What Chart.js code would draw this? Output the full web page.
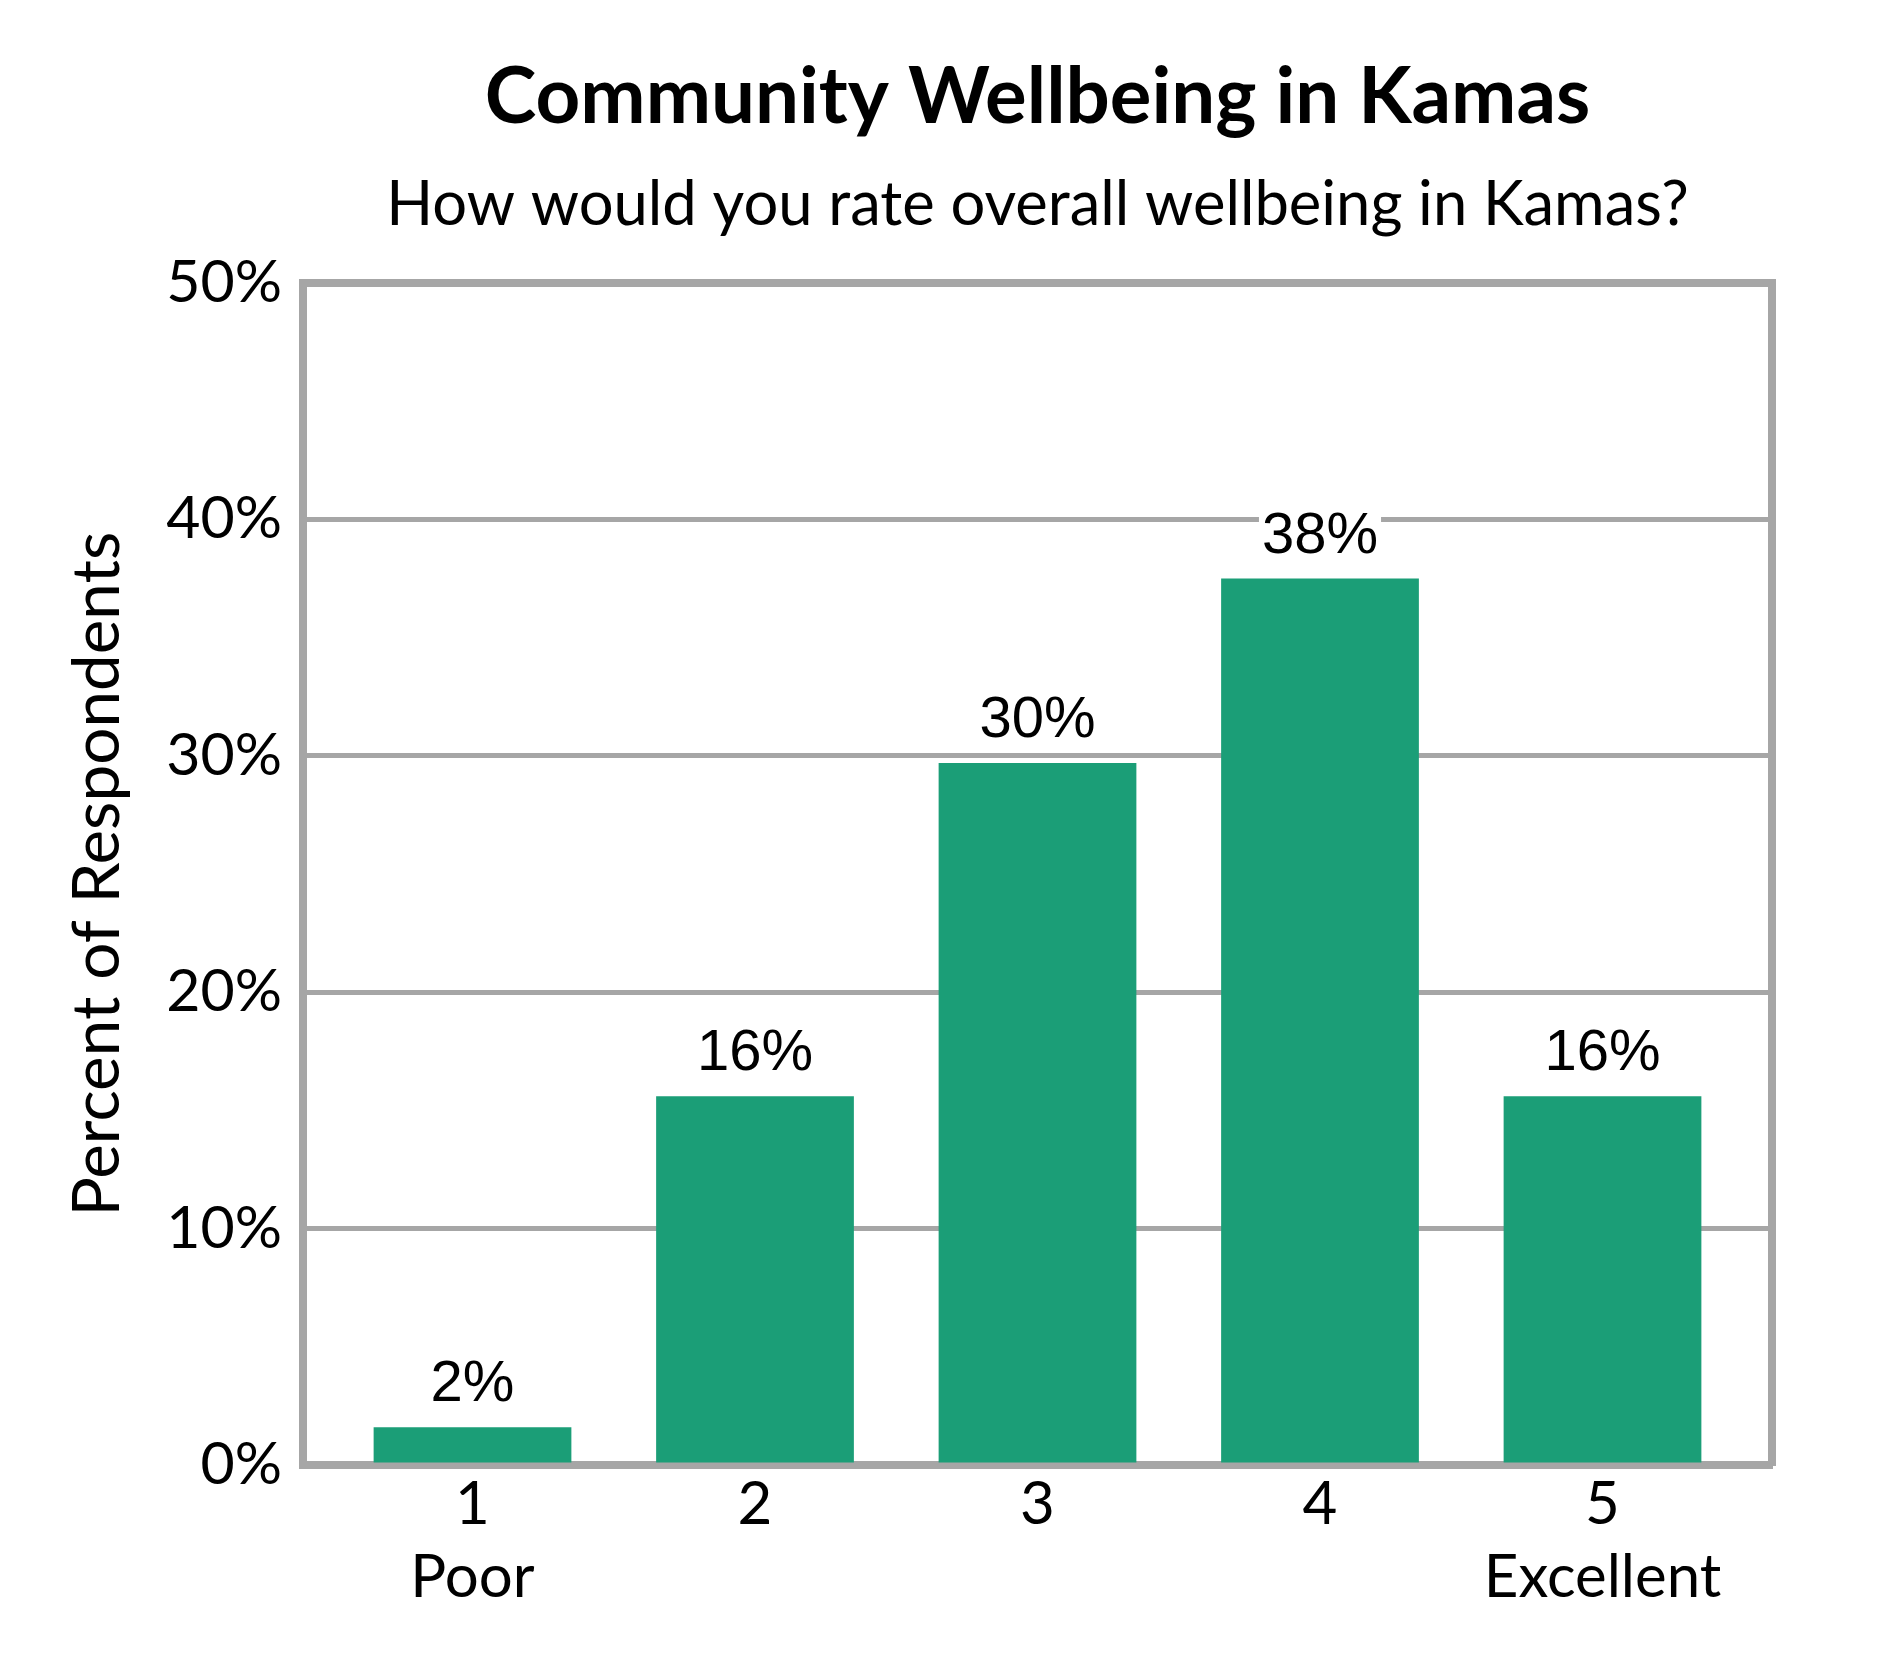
<!DOCTYPE html>
<html>
<head>
<meta charset="utf-8">
<script src="https://cdn.jsdelivr.net/npm/chart.js@4.4.1/dist/chart.umd.min.js"></script>
<style>
  html, body { margin: 0; padding: 0; background: #ffffff; }
  #wrap { width: 1890px; height: 1680px; }
</style>
</head>
<body>
<div id="wrap"><canvas id="c" width="1890" height="1680"></canvas></div>
<script>
// ---- data ----
const titleText = 'Community Wellbeing in Kamas';
const subtitleText = 'How would you rate overall wellbeing in Kamas?';
const yAxisTitle = 'Percent of Respondents';
const categories = ['1', '2', '3', '4', '5'];
const categoryNotes = ['Poor', '', '', '', 'Excellent'];
const values = [1.6, 15.6, 29.7, 37.5, 15.6];
const valueLabels = ['2%', '16%', '30%', '38%', '16%'];
const yTickValues = [0, 10, 20, 30, 40, 50];
const yTickLabels = ['0%', '10%', '20%', '30%', '40%', '50%'];

// ---- style ----
const BAR = '#1b9e77';
const GRAY = '#a6a6a6';
const FONT = 'Lato';

const xLabels = categories.map((c, i) => categoryNotes[i] ? [c, categoryNotes[i]] : [c]);

const valueLabelPlugin = {
  id: 'valueLabels',
  afterDatasetsDraw(chart) {
    const ctx = chart.ctx;
    const meta = chart.getDatasetMeta(0);
    ctx.save();
    ctx.font = '58px "Liberation Sans"';
    ctx.textAlign = 'center';
    ctx.textBaseline = 'alphabetic';
    meta.data.forEach((bar, i) => {
      const txt = valueLabels[i];
      const w = ctx.measureText(txt).width;
      const by = bar.y - 26;
      ctx.fillStyle = '#ffffff';
      ctx.fillRect(bar.x - w / 2 - 3, by - 46, w + 6, 58);
      ctx.fillStyle = '#000000';
      ctx.fillText(txt, bar.x, by);
    });
    ctx.restore();
  }
};

function build() {
  Chart.defaults.font.family = FONT;
  Chart.defaults.color = '#000000';
  new Chart(document.getElementById('c'), {
    type: 'bar',
    data: {
      datasets: [{
        data: values.map((v, i) => ({ x: i, y: v })),
        backgroundColor: BAR,
        borderWidth: 0,
        barPercentage: 0.7,
        categoryPercentage: 1.0
      }]
    },
    options: {
      responsive: false,
      animation: false,
      devicePixelRatio: 1,
      layout: { padding: { left: 0, right: 118, top: 0, bottom: 0 } },
      plugins: {
        legend: { display: false },
        tooltip: { enabled: false },
        title: {
          display: true,
          text: titleText,
          fullSize: false,
          color: '#000000',
          font: { family: FONT, size: 78, weight: 'bold', lineHeight: 1.2 },
          padding: { top: 51, bottom: 0 }
        },
        subtitle: {
          display: true,
          text: subtitleText,
          fullSize: false,
          color: '#000000',
          font: { family: FONT, size: 61.5, weight: 'normal', lineHeight: 1.2 },
          padding: { top: 24, bottom: 40.6 }
        }
      },
      scales: {
        x: {
          type: 'linear',
          position: 'bottom',
          offset: false,
          bounds: 'ticks',
          min: -0.6,
          max: 4.6,
          afterBuildTicks: (scale) => { scale.ticks = categories.map((c, i) => ({ value: i })); },
          afterFit: (scale) => { scale.height = 215; },
          grid: { display: false, drawTicks: false, offset: false },
          border: { display: true, color: GRAY, width: 8 },
          ticks: {
            autoSkip: false,
            maxRotation: 0,
            padding: 3,
            color: '#000000',
            font: { family: FONT, size: 60, lineHeight: 1.22 },
            callback: (value) => xLabels[value]
          }
        },
        y: {
          position: 'left',
          min: 0,
          max: 50,
          afterBuildTicks: (scale) => { scale.ticks = yTickValues.map(v => ({ value: v })); },
          afterFit: (scale) => { scale.width = 303; },
          grid: {
            display: true,
            drawTicks: false,
            color: GRAY,
            lineWidth: (ctx) => (ctx.tick && ctx.tick.value === 50 ? 8 : 5)
          },
          border: { display: true, color: GRAY, width: 8 },
          ticks: {
            padding: 21,
            color: '#000000',
            font: { family: FONT, size: 59 },
            callback: (value) => yTickLabels[yTickValues.indexOf(value)]
          },
          title: {
            display: true,
            text: yAxisTitle,
            color: '#000000',
            font: { family: FONT, size: 65.6, lineHeight: 1.2 },
            padding: { top: 58.6, bottom: 0 }
          }
        },
        yRight: {
          position: 'right',
          min: 0,
          max: 50,
          afterFit: (scale) => { scale.width = 0; },
          grid: { display: false, drawTicks: false },
          border: { display: true, color: GRAY, width: 8 },
          ticks: { display: false }
        }
      }
    },
    plugins: [valueLabelPlugin]
  });
}

Promise.all([
  document.fonts.load('bold 78px Lato'),
  document.fonts.load('60px Lato'),
  document.fonts.load('58px "Liberation Sans"')
]).then(build, build);
</script>
</body>
</html>
